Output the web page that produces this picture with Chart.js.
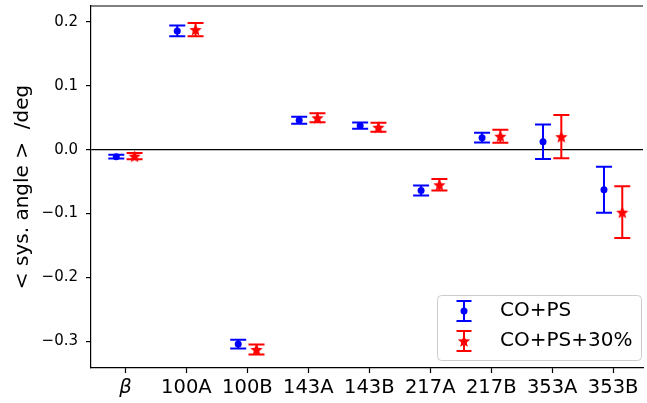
<!DOCTYPE html>
<html lang="en">
<head>
  <meta charset="UTF-8" />
  <title>Systematic angle per channel</title>
  <script src="https://cdn.jsdelivr.net/npm/chart.js"></script>
  <style>
    html, body { margin: 0; padding: 0; background: #fff; overflow: hidden; }
    #wrap { width: 647px; height: 403px; }
  </style>
</head>
<body>
  <div id="wrap"><canvas id="chart" width="647" height="403"></canvas></div>

  <script>
    // data
    const categories = ['β', '100A', '100B', '143A', '143B', '217A', '217B', '353A', '353B'];
    const coPs      = [-0.011, 0.186, -0.3046, 0.046, 0.0376, -0.064, 0.0188, 0.0125, -0.0627];
    const coPsErr   = [0.003, 0.0085, 0.0067, 0.0055, 0.005, 0.008, 0.0076, 0.027, 0.036];
    const coPs30    = [-0.0102, 0.188, -0.313, 0.0499, 0.035, -0.055, 0.021, 0.0204, -0.098];
    const coPs30Err = [0.005, 0.0105, 0.008, 0.007, 0.007, 0.009, 0.01, 0.034, 0.0405];
    const yTicks = [-0.3, -0.2, -0.1, 0.0, 0.1, 0.2];
    const seriesNames = ['CO+PS', 'CO+PS+30%'];

    const BLUE = '#0000ff';
    const RED = '#ff0000';
    const FONT = 'DejaVu Sans';

    function drawStar(ctx, x, y, r, color) {
      ctx.save();
      ctx.fillStyle = color;
      ctx.beginPath();
      for (let k = 0; k < 10; k++) {
        const rad = k % 2 === 0 ? r : r * 0.45;
        const a = -Math.PI / 2 + k * Math.PI / 5;
        const px = x + rad * Math.cos(a), py = y + rad * Math.sin(a);
        if (k === 0) ctx.moveTo(px, py); else ctx.lineTo(px, py);
      }
      ctx.closePath();
      ctx.fill();
      ctx.restore();
    }

    function starImage(r, color) {
      const c = document.createElement('canvas');
      c.width = c.height = Math.ceil(2 * r + 2);
      drawStar(c.getContext('2d'), c.width / 2, c.height / 2 + r * 0.1, r, color);
      return c;
    }

    function drawDot(ctx, x, y, r, color) {
      ctx.save();
      ctx.fillStyle = color;
      ctx.beginPath();
      ctx.arc(x, y, r, 0, Math.PI * 2);
      ctx.fill();
      ctx.restore();
    }

    function errBar(ctx, x, top, bot, cap, color) {
      ctx.save();
      ctx.strokeStyle = color;
      ctx.lineWidth = 2;
      ctx.beginPath();
      ctx.moveTo(x, top); ctx.lineTo(x, bot);
      ctx.moveTo(x - cap, top); ctx.lineTo(x + cap, top);
      ctx.moveTo(x - cap, bot); ctx.lineTo(x + cap, bot);
      ctx.stroke();
      ctx.restore();
    }

    const errorBars = {
      id: 'errorBars',
      beforeDatasetsDraw(chart) {
        const ctx = chart.ctx, ys = chart.scales.y;
        chart.data.datasets.forEach((ds, i) => {
          chart.getDatasetMeta(i).data.forEach((pt, j) => {
            const v = ds.data[j].y, e = ds.errors[j];
            errBar(ctx, pt.x, ys.getPixelForValue(v + e), ys.getPixelForValue(v - e), 8, ds.borderColor);
          });
        });
      },
      afterDraw(chart) {
        const ctx = chart.ctx, a = chart.chartArea;
        // top spine
        ctx.save();
        ctx.strokeStyle = '#000';
        ctx.lineWidth = 1.2;
        ctx.beginPath();
        ctx.moveTo(a.left, a.top); ctx.lineTo(a.right, a.top);
        ctx.stroke();

        // legend, lower right
        const bx = 437, by = 295, bw = 204, bh = 65, rr = 4;
        ctx.fillStyle = 'rgba(255,255,255,0.8)';
        ctx.strokeStyle = '#cccccc';
        ctx.lineWidth = 1;
        ctx.beginPath();
        ctx.roundRect(bx + 0.5, by + 0.5, bw, bh, rr);
        ctx.fill();
        ctx.stroke();

        const rows = [311, 341];
        const colors = [BLUE, RED];
        rows.forEach((ry, k) => {
          errBar(ctx, 464, ry - 10, ry + 10, 7.5, colors[k]);
          if (k === 0) drawDot(ctx, 464, ry, 3.5, BLUE);
          else drawStar(ctx, 464, ry + 0.6, 6.5, RED);
          ctx.fillStyle = '#000';
          ctx.font = '20px "' + FONT + '"';
          ctx.textBaseline = 'middle';
          ctx.textAlign = 'left';
          ctx.fillText(seriesNames[k], 500, ry);
        });
        ctx.restore();
      }
    };

    new Chart(document.getElementById('chart'), {
      type: 'scatter',
      data: {
        datasets: [
          {
            label: seriesNames[0],
            data: categories.map((c, i) => ({ x: i - 0.15, y: coPs[i] })),
            errors: coPsErr,
            pointStyle: 'circle',
            pointRadius: 3.5,
            backgroundColor: BLUE,
            borderColor: BLUE,
            borderWidth: 0
          },
          {
            label: seriesNames[1],
            data: categories.map((c, i) => ({ x: i + 0.15, y: coPs30[i] })),
            errors: coPs30Err,
            pointStyle: starImage(6.5, RED),
            backgroundColor: RED,
            borderColor: RED,
            borderWidth: 0
          }
        ]
      },
      options: {
        responsive: false,
        animation: false,
        layout: { padding: { top: 6, left: 0, right: 0, bottom: 0 } },
        plugins: { legend: { display: false }, tooltip: { enabled: false } },
        scales: {
          x: {
            type: 'linear',
            min: -0.565,
            max: 8.49,
            afterBuildTicks: ax => { ax.ticks = categories.map((c, i) => ({ value: i })); },
            afterFit: s => { s.height = 35; s.paddingLeft = 0; s.paddingRight = 0; },
            ticks: {
              callback: v => categories[v],
              color: '#000',
              padding: 3,
              maxRotation: 0,
              autoSkip: false,
              font: ctx => ({ family: FONT, size: 19.5, style: ctx.index === 0 ? 'italic' : 'normal' })
            },
            grid: { drawOnChartArea: false, tickColor: '#000', tickLength: 5, tickWidth: 1.2 },
            border: { color: '#000', width: 1.2 }
          },
          y: {
            min: -0.342,
            max: 0.225,
            afterBuildTicks: ax => { ax.ticks = yTicks.map(v => ({ value: v })); },
            afterFit: s => { s.width = 91; s.paddingTop = 0; s.paddingBottom = 0; },
            ticks: {
              callback: v => v.toFixed(1).replace('-', '\u2212'),
              color: '#000',
              padding: 8,
              font: { family: FONT, size: 15 }
            },
            grid: {
              color: ctx => (ctx.tick && Math.abs(ctx.tick.value) < 1e-9) ? '#000' : 'rgba(0,0,0,0)',
              lineWidth: 1.2,
              tickColor: '#000',
              tickLength: 5,
              tickWidth: 1.2
            },
            border: { color: '#000', width: 1.2 },
            title: {
              display: true,
              text: '< sys. angle >  /deg',
              color: '#000',
              font: { family: FONT, size: 20 },
              padding: { top: 11, bottom: 0 }
            }
          }
        }
      },
      plugins: [errorBars]
    });
  </script>
</body>
</html>
